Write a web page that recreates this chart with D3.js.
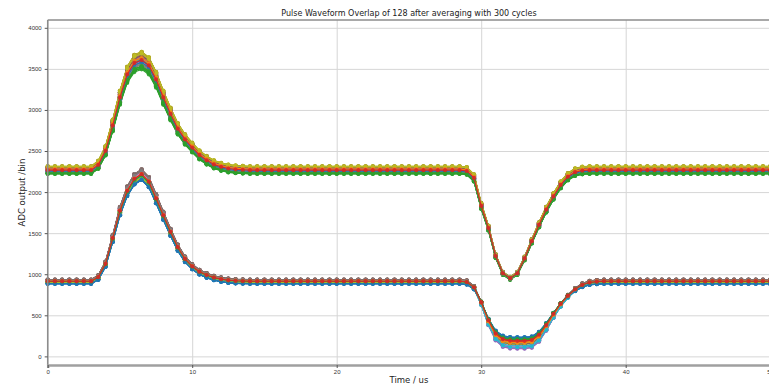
<!DOCTYPE html>
<html>
<head>
<meta charset="utf-8">
<script src="https://cdn.jsdelivr.net/npm/d3@7"></script>
<style>
  html, body { margin: 0; padding: 0; background: #fff; }
  svg { display: block; font-family: "DejaVu Sans", sans-serif; }
  .tick text { fill: #333; }
</style>
</head>
<body>
<div id="chart"></div>
<script>
// sample times (us), one sample every 0.5 us
const timeUs = [
  0, 0.5, 1, 1.5, 2, 2.5, 3, 3.5, 4, 4.5, 5, 5.5, 6, 6.5, 7, 7.5, 8, 8.5, 9, 9.5,
  10, 10.5, 11, 11.5, 12, 12.5, 13, 13.5, 14, 14.5, 15, 15.5, 16, 16.5, 17, 17.5, 18, 18.5, 19, 19.5,
  20, 20.5, 21, 21.5, 22, 22.5, 23, 23.5, 24, 24.5, 25, 25.5, 26, 26.5, 27, 27.5, 28, 28.5, 29, 29.5,
  30, 30.5, 31, 31.5, 32, 32.5, 33, 33.5, 34, 34.5, 35, 35.5, 36, 36.5, 37, 37.5, 38, 38.5, 39, 39.5,
  40, 40.5, 41, 41.5, 42, 42.5, 43, 43.5, 44, 44.5, 45, 45.5, 46, 46.5, 47, 47.5, 48, 48.5, 49, 49.5, 50
];

// mean waveform of the upper group of channels
const upperBaseline = 2265;
const upperWave = [
  2265, 2265, 2265, 2265, 2265, 2265, 2265, 2330, 2500, 2810, 3150, 3430, 3570, 3605, 3540, 3370, 3150, 2950, 2770, 2640,
  2540, 2450, 2385, 2335, 2305, 2285, 2275, 2270, 2265, 2265, 2265, 2265, 2265, 2265, 2265, 2265, 2265, 2265, 2265, 2265,
  2265, 2265, 2265, 2265, 2265, 2265, 2265, 2265, 2265, 2265, 2265, 2265, 2265, 2265, 2265, 2265, 2265, 2265, 2255, 2170,
  1830, 1560, 1220, 1010, 950, 1010, 1190, 1400, 1600, 1785, 1945, 2085, 2185, 2240, 2260, 2265, 2265, 2265, 2265, 2265,
  2265, 2265, 2265, 2265, 2265, 2265, 2265, 2265, 2265, 2265, 2265, 2265, 2265, 2265, 2265, 2265, 2265, 2265, 2265, 2265, 2265
];

// mean waveform of the lower group of channels
const lowerBaseline = 910;
const lowerWave = [
  910, 910, 910, 910, 910, 910, 910, 960, 1120, 1430, 1760, 2000, 2145, 2200, 2110, 1910, 1705, 1505, 1320, 1180,
  1090, 1025, 985, 955, 935, 922, 915, 912, 910, 910, 910, 910, 910, 910, 910, 910, 910, 910, 910, 910,
  910, 910, 910, 910, 910, 910, 910, 910, 910, 910, 910, 910, 910, 910, 910, 910, 910, 910, 900, 835,
  650, 425, 260, 190, 172, 170, 170, 180, 245, 365, 505, 630, 730, 810, 865, 895, 905, 910, 910, 910,
  910, 910, 910, 910, 910, 910, 910, 910, 910, 910, 910, 910, 910, 910, 910, 910, 910, 910, 910, 910, 910
];

// per-channel baseline offset (bin), pulse gain (%) and dip gain (%)
const upperOffset = [
  -5, 12, -38, 3, 30, 35, -10, -20, 48, 8,
  -12, 22, -44, -2, 25, 40, -8, -25, 45, 15,
  0, 18, -40, 6, 28, 32, -15, -18, 50, 10,
  -8, 26, -35, -6, 33, 38, -4, -22, 42, 4,
  -14, 16, -42, 1, 20, 44, -12, -28, 46, 12,
  -3, 20, -36, 8, 24, 30, -6, -16, 40, 6,
  -10, 14, -30, 2
];
const upperPulseGain = [
  0, 1, -4, 0, 3, 3, -1, -2, 4, 1,
  -1, 2, -5, 0, 2, 3, -1, -2, 4, 1,
  0, 2, -4, 1, 2, 3, -1, -2, 4, 1,
  -1, 2, -3, 0, 3, 3, 0, -2, 3, 0,
  -1, 1, -4, 0, 2, 4, -1, -2, 4, 1,
  0, 2, -3, 1, 2, 2, -1, -1, 3, 1,
  -1, 1, -3, 0
];
const upperDipGain = [
  0, 1, -2, 0, 2, 2, -1, -1, 3, 0,
  -1, 1, -2, 0, 1, 2, 0, -1, 2, 1,
  0, 1, -2, 0, 2, 2, -1, -1, 3, 1,
  0, 1, -2, 0, 2, 2, 0, -1, 2, 0,
  -1, 1, -2, 0, 1, 2, -1, -2, 3, 1,
  0, 1, -2, 0, 1, 2, 0, -1, 2, 0,
  -1, 1, -2, 0
];
const lowerOffset = [
  -26, 5, 2, 8, 14, 24, 10, 20, -4, 0,
  -24, 8, -2, 4, 16, 25, 12, 22, -6, -3,
  -22, 3, 0, 10, 12, 20, 6, 18, -8, 2,
  -25, 6, -4, 6, 18, 23, 14, 24, -2, -5,
  -20, 10, 1, 2, 10, 22, 8, 16, -10, 4,
  -27, 4, -1, 7, 15, 21, 9, 19, -5, 1,
  -23, 7, 3, 5
];
const lowerPulseGain = [
  -2, 1, 0, 1, 3, 4, 2, 3, 0, 1,
  -2, 1, 0, 1, 3, 4, 2, 3, 0, 0,
  -1, 0, 0, 2, 3, 3, 1, 3, -1, 1,
  -2, 1, 0, 1, 4, 4, 2, 4, 0, 0,
  -1, 2, 0, 0, 2, 3, 1, 2, -1, 1,
  -2, 1, 0, 1, 3, 3, 2, 3, 0, 0,
  -2, 1, 0, 1
];
const lowerDipGain = [
  -12, 2, -4, -2, 11, 5, 8, 3, 1, 7,
  -10, 0, -5, -3, 10, 4, 9, 2, 0, 6,
  -11, 1, -6, -1, 12, 6, 7, 4, 2, 8,
  -12, 3, -3, -2, 9, 5, 10, 3, 1, 7,
  -9, 0, -5, 0, 11, 4, 8, 2, -1, 6,
  -11, 2, -4, -1, 10, 5, 9, 4, 0, 8,
  -10, 1, -5, -2
];

const xTicks = [0, 10, 20, 30, 40, 50];
const yTicks = [0, 500, 1000, 1500, 2000, 2500, 3000, 3500, 4000];
const colors = ['#1f77b4', '#ff7f0e', '#2ca02c', '#d62728', '#9467bd',
                '#8c564b', '#e377c2', '#7f7f7f', '#bcbd22', '#17becf'];

// build one series per channel from the group waveform and channel params
function channelSeries(wave, base, offs, pGain, dGain) {
  return offs.map((off, c) => wave.map((v, i) => {
    const d = v - base;
    const g = d >= 0 ? pGain[c] : dGain[c];
    return { t: timeUs[i], v: base + off + d * (1 + g / 100) };
  }));
}
const series = [
  ...channelSeries(upperWave, upperBaseline, upperOffset, upperPulseGain, upperDipGain),
  ...channelSeries(lowerWave, lowerBaseline, lowerOffset, lowerPulseGain, lowerDipGain)
];

const W = 769, H = 384;
const m = { left: 47.7, right: 770.2, top: 20, bottom: 365 };

const svg = d3.select('#chart').append('svg')
  .attr('width', W)
  .attr('height', H);

const x = d3.scaleLinear().domain([0, 50]).range([m.left, m.right]);
const y = d3.scaleLinear().domain([-105, 4095]).range([m.bottom, m.top]);

// grid
svg.append('g')
  .attr('transform', `translate(0,${m.bottom})`)
  .call(d3.axisBottom(x).tickValues(xTicks).tickSize(-(m.bottom - m.top)).tickFormat(''))
  .call(g => g.select('.domain').remove())
  .selectAll('line').attr('stroke', '#d6d6d6').attr('stroke-width', 1);
svg.append('g')
  .attr('transform', `translate(${m.left},0)`)
  .call(d3.axisLeft(y).tickValues(yTicks).tickSize(-(m.right - m.left)).tickFormat(''))
  .call(g => g.select('.domain').remove())
  .selectAll('line').attr('stroke', '#d6d6d6').attr('stroke-width', 1);

// waveforms
const line = d3.line().x(d => x(d.t)).y(d => y(d.v));
const plot = svg.append('g');
series.forEach((s, k) => {
  const col = colors[k % 64 % 10];
  const g = plot.append('g');
  g.append('path')
    .attr('d', line(s))
    .attr('fill', 'none')
    .attr('stroke', col)
    .attr('stroke-width', 1.1);
  g.selectAll('circle')
    .data(s)
    .enter().append('circle')
    .attr('cx', d => x(d.t))
    .attr('cy', d => y(d.v))
    .attr('r', 2.1)
    .attr('fill', col)
    .attr('fill-opacity', 0.9);
});

// spines
svg.append('line').attr('x1', m.left).attr('x2', m.right).attr('y1', m.top).attr('y2', m.top)
  .attr('stroke', '#8c8c8c').attr('stroke-width', 1.5);
svg.append('line').attr('x1', m.left).attr('x2', m.left).attr('y1', m.top).attr('y2', m.bottom)
  .attr('stroke', '#8c8c8c').attr('stroke-width', 1.5);

// axes
const xAxis = svg.append('g')
  .attr('transform', `translate(0,${m.bottom})`)
  .call(d3.axisBottom(x).tickValues(xTicks).tickSize(3).tickPadding(2))
  .attr('font-size', 6);
xAxis.select('.domain').attr('stroke', '#a0a0a0').attr('stroke-width', 2.5);
xAxis.selectAll('.tick line').attr('stroke', '#555');

const yAxis = svg.append('g')
  .attr('transform', `translate(${m.left},0)`)
  .call(d3.axisLeft(y).tickValues(yTicks).tickSize(3).tickPadding(3).tickFormat(d3.format('d')))
  .attr('font-size', 6);
yAxis.select('.domain').remove();
yAxis.selectAll('.tick line').attr('stroke', '#555');

// labels
svg.append('text')
  .attr('x', (m.left + m.right) / 2)
  .attr('y', 16)
  .attr('text-anchor', 'middle')
  .attr('font-size', 8)
  .attr('fill', '#222')
  .text('Pulse Waveform Overlap of 128 after averaging with 300 cycles');

svg.append('text')
  .attr('x', (m.left + m.right) / 2)
  .attr('y', 383)
  .attr('text-anchor', 'middle')
  .attr('font-size', 8.5)
  .attr('fill', '#222')
  .text('Time / us');

svg.append('text')
  .attr('transform', `translate(25,${(m.top + m.bottom) / 2}) rotate(-90)`)
  .attr('text-anchor', 'middle')
  .attr('font-size', 8.5)
  .attr('fill', '#222')
  .text('ADC output /bin');
</script>
</body>
</html>
